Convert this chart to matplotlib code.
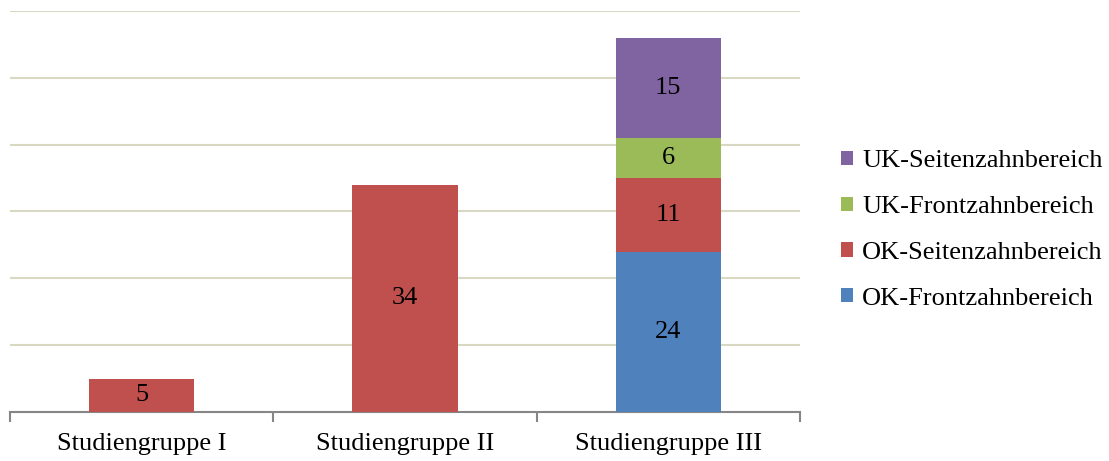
import matplotlib
matplotlib.use("Agg")
import matplotlib.pyplot as plt
import numpy as np

plt.rcParams['font.family'] = ['Liberation Serif', 'DejaVu Serif']

gruppen = ["Studiengruppe I", "Studiengruppe II", "Studiengruppe III"]
serien = ["OK-Frontzahnbereich", "OK-Seitenzahnbereich", "UK-Frontzahnbereich", "UK-Seitenzahnbereich"]
ok_front = [0, 0, 24]
ok_seiten = [5, 34, 11]
uk_front = [0, 0, 6]
uk_seiten = [0, 0, 15]
farben = ["#4f81bd", "#c0504d", "#9bbb59", "#8064a2"]

fig = plt.figure(figsize=(11.09, 4.61), dpi=100)
ax = fig.add_axes([10/1109, 1-412/461, 790/1109, 401/461])

x = np.arange(len(gruppen))
unten = np.zeros(len(gruppen))
handles = []
for name, werte, farbe in zip(serien, [ok_front, ok_seiten, uk_front, uk_seiten], farben):
    werte = np.array(werte, dtype=float)
    b = ax.bar(x, werte, 0.4, bottom=unten, color=farbe, label=name, zorder=3)
    handles.append(b)
    for xi, u, w in zip(x, unten, werte):
        if w > 0:
            ax.text(xi, u + w/2, str(int(w)), ha='center', va='center', fontsize=19, zorder=4)
    unten += werte

ax.set_xlim(-0.5, 2.5)
ax.set_ylim(0, 60)
ax.set_yticks(np.arange(10, 61, 10))
ax.yaxis.grid(True, color="#d9d9c3", linewidth=1.5, zorder=0)
ax.tick_params(axis='y', left=False, labelleft=False)
for s in ['left', 'right', 'top']:
    ax.spines[s].set_visible(False)
ax.spines['bottom'].set_color("#868686")
ax.spines['bottom'].set_linewidth(1.5)

ax.set_xticks(x)
ax.set_xticklabels(gruppen, fontsize=19)
ax.tick_params(axis='x', length=0, pad=15)
ax.set_xticks([-0.5, 0.5, 1.5, 2.5], minor=True)
ax.tick_params(axis='x', which='minor', length=7, color="#868686", width=1.5, direction='out')

ax.legend(handles[::-1], serien[::-1], loc='center left', bbox_to_anchor=(841/1109, 231/461),
          bbox_transform=fig.transFigure, frameon=False, fontsize=19,
          handlelength=0.45, handleheight=0.45, handletextpad=0.35, labelspacing=0.9,
          borderpad=0, borderaxespad=0)

fig.savefig("out.png", dpi=100)
